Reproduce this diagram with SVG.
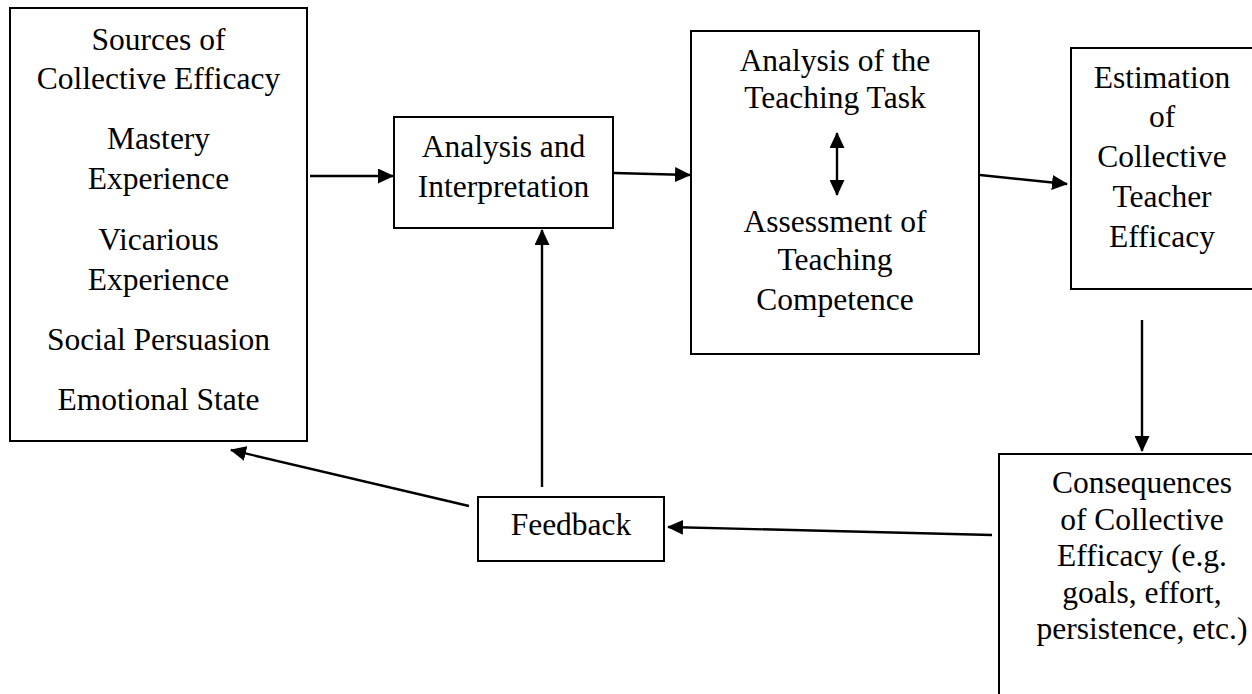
<svg xmlns="http://www.w3.org/2000/svg" width="1252" height="694" viewBox="0 0 1252 694">
<style>
.box{fill:#fff;stroke:#000;stroke-width:2}
text{font-family:'Liberation Serif','Times New Roman','DejaVu Serif',serif;font-size:31.5px;fill:#000;text-anchor:middle}
.c line{stroke:#000;stroke-width:2.4;fill:none}
</style>
<defs>
<marker id="ah" markerUnits="userSpaceOnUse" markerWidth="16" markerHeight="15" refX="15" refY="7.5" orient="auto">
<path d="M0,0 L16,7.5 L0,15 z" fill="#000"/>
</marker>
<marker id="ahs" markerUnits="userSpaceOnUse" markerWidth="16" markerHeight="15" refX="1" refY="7.5" orient="auto">
<path d="M16,0 L0,7.5 L16,15 z" fill="#000"/>
</marker>
</defs>
<rect width="1252" height="694" fill="#fff"/>
<g id="sources" font-family="Liberation Serif, Times New Roman, serif">
<rect class="box" x="10" y="8" width="297" height="433"/>
<text x="158.5" y="50">Sources of</text>
<text x="158.5" y="89">Collective Efficacy</text>
<text x="158.5" y="149">Mastery</text>
<text x="158.5" y="189">Experience</text>
<text x="158.5" y="250">Vicarious</text>
<text x="158.5" y="290">Experience</text>
<text x="158.5" y="350">Social Persuasion</text>
<text x="158.5" y="410">Emotional State</text>
</g>
<g id="analysis">
<rect class="box" x="394" y="117" width="219" height="111"/>
<text x="503.5" y="157">Analysis and</text>
<text x="503.5" y="197">Interpretation</text>
</g>
<g id="task">
<rect class="box" x="691" y="31" width="288" height="323"/>
<text x="835" y="71">Analysis of the</text>
<text x="835" y="108">Teaching Task</text>
<text x="835" y="232">Assessment of</text>
<text x="835" y="270">Teaching</text>
<text x="835" y="310">Competence</text>
</g>
<g id="estimation">
<rect class="box" x="1071" y="48" width="184" height="241"/>
<text x="1162" y="88">Estimation</text>
<text x="1162" y="127">of</text>
<text x="1162" y="167">Collective</text>
<text x="1162" y="207">Teacher</text>
<text x="1162" y="247">Efficacy</text>
</g>
<g id="consequences">
<rect class="box" x="999" y="454" width="290" height="260"/>
<text x="1142" y="493">Consequences</text>
<text x="1142" y="530">of Collective</text>
<text x="1142" y="566">Efficacy (e.g.</text>
<text x="1142" y="603">goals, effort,</text>
<text x="1142" y="639">persistence, etc.)</text>
</g>
<g id="feedback">
<rect class="box" x="478" y="497" width="186" height="64"/>
<text x="571" y="535">Feedback</text>
</g>
<g id="connectors" class="c">
<line x1="310" y1="176" x2="393" y2="176" marker-end="url(#ah)"/>
<line x1="614" y1="173" x2="690" y2="175" marker-end="url(#ah)"/>
<line x1="980" y1="175" x2="1067" y2="184" marker-end="url(#ah)"/>
<line x1="1142" y1="320" x2="1142" y2="451" marker-end="url(#ah)"/>
<line x1="992" y1="535" x2="668" y2="527" marker-end="url(#ah)"/>
<line x1="542" y1="487" x2="542" y2="230" marker-end="url(#ah)"/>
<line x1="469" y1="506" x2="231" y2="450" marker-end="url(#ah)"/>
<line x1="837" y1="133" x2="837" y2="195" marker-start="url(#ahs)" marker-end="url(#ah)"/>
</g>
</svg>
